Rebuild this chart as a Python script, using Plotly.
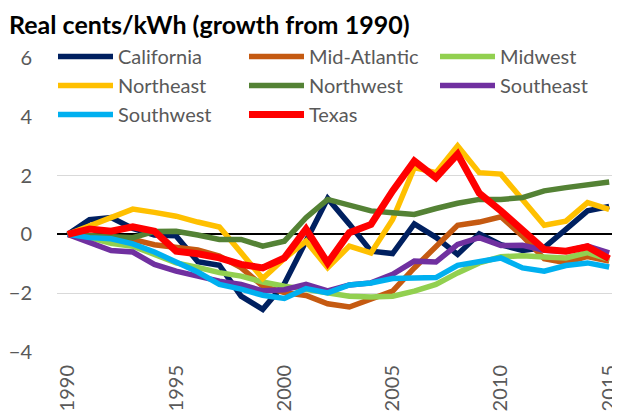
import plotly.graph_objects as go

years = list(range(1990, 2016))

series_names = ["California", "Mid-Atlantic", "Midwest", "Northeast",
                "Northwest", "Southeast", "Southwest", "Texas"]

california = [0, 0.5, 0.57, 0.2, -0.02, -0.05, -0.93, -1.05, -2.1, -2.55, -1.68, -0.2, 1.22,
              0.35, -0.57, -0.65, 0.36, -0.1, -0.68, 0.02, -0.35, -0.55, -0.45, 0.17, 0.8, 0.95]
mid_atlantic = [0, -0.05, -0.1, -0.17, -0.35, -0.45, -0.53, -0.74, -1.13, -1.76, -1.98, -2.08, -2.36,
                -2.47, -2.22, -1.93, -1.14, -0.4, 0.31, 0.42, 0.6, -0.06, -0.83, -0.96, -0.75, -0.91]
midwest = [0, -0.11, -0.3, -0.4, -0.68, -0.97, -1.12, -1.3, -1.42, -1.62, -1.76, -1.87, -1.98,
           -2.1, -2.13, -2.1, -1.93, -1.7, -1.31, -0.97, -0.76, -0.73, -0.77, -0.8, -0.62, -0.85]
northeast = [0, 0.3, 0.55, 0.86, 0.75, 0.62, 0.42, 0.25, -0.62, -1.5, -0.82, -0.23, -1.13,
             -0.4, -0.63, 0.51, 2.27, 2.1, 3.01, 2.1, 2.05, 1.19, 0.31, 0.45, 1.08, 0.85]
northwest = [0, -0.03, -0.06, -0.11, 0.1, 0.11, -0.02, -0.17, -0.17, -0.4, -0.23, 0.57, 1.19,
             0.99, 0.8, 0.74, 0.68, 0.88, 1.06, 1.19, 1.19, 1.25, 1.48, 1.59, 1.67, 1.78]
southeast = [0, -0.28, -0.55, -0.6, -1.02, -1.25, -1.42, -1.59, -1.7, -1.92, -1.88, -1.7, -1.92,
             -1.72, -1.65, -1.36, -0.91, -0.94, -0.34, -0.11, -0.38, -0.37, -0.54, -0.57, -0.4, -0.63]
southwest = [0, -0.11, -0.15, -0.32, -0.6, -0.95, -1.28, -1.7, -1.86, -2.07, -2.18, -1.84, -1.99,
             -1.72, -1.65, -1.5, -1.48, -1.47, -1.05, -0.93, -0.8, -1.14, -1.25, -1.06, -0.97, -1.11]
texas = [0, 0.18, 0.11, 0.26, 0.11, -0.57, -0.66, -0.8, -1.02, -1.14, -0.8, 0.18, -0.97,
         0.06, 0.34, 1.48, 2.5, 1.93, 2.73, 1.4, 0.8, 0.17, -0.51, -0.57, -0.42, -0.83]

series_values = [california, mid_atlantic, midwest, northeast,
                 northwest, southeast, southwest, texas]
colors = ["#002060", "#C55A11", "#92D050", "#FFC000",
          "#548235", "#7030A0", "#00B0F0", "#FF0000"]
widths = [5.5, 5.5, 5.5, 5.5, 5.5, 5.5, 5.5, 7]

x_ticks = [1990, 1995, 2000, 2005, 2010, 2015]
y_ticks = [-4, -2, 0, 2, 4, 6]

FONT = "Lato"
W, H = 612, 410  # page body adds an 8px offset inside the 620x418 window
ML, MT, MB = 49, 50, 66
PW, PH = W - ML, H - MT - MB

fig = go.Figure()
for name, vals, col, w in zip(series_names, series_values, colors, widths):
    fig.add_trace(go.Scatter(x=years, y=vals, name=name, mode="lines",
                             line=dict(color=col, width=w)))

fig.update_layout(
    width=W, height=H,
    margin=dict(l=ML, r=0, t=MT, b=MB, autoexpand=False),
    paper_bgcolor="white", plot_bgcolor="white",
    font=dict(family=FONT, color="#595959", size=20),
    title=dict(text="<b>Real cents/kWh (growth from 1990)</b>",
               font=dict(family=FONT, size=25, color="black"),
               x=1 / W, xref="container", xanchor="left",
               y=1 - 17 / H, yref="container", yanchor="middle", automargin=False),
    legend=dict(orientation="h", x=(45 - ML) / PW, xanchor="left",
                y=1 + (MT - 29) / PH, yanchor="top",
                bgcolor="white", font=dict(family=FONT, size=20, color="#595959"),
                entrywidth=121, entrywidthmode="pixels", itemwidth=55,
                traceorder="normal"),
    showlegend=True,
)
fig.update_xaxes(range=[1989.5, 2015.5], tickvals=x_ticks, ticktext=[str(t) for t in x_ticks],
                 tickangle=-90, showgrid=False, zeroline=False, showline=False, automargin=False,
                 ticks="", ticklabeloverflow="allow",
                 ticklabelstandoff=8, tickfont=dict(size=20, color="#595959"))
fig.update_yaxes(range=[-4, 6], tickvals=y_ticks, showgrid=True, gridcolor="#D9D9D9",
                 gridwidth=1, zeroline=True, zerolinecolor="black", zerolinewidth=1.5,
                 showline=False, ticks="", ticklabelstandoff=24, automargin=False,
                 tickfont=dict(size=20, color="#595959"))

fig.write_html("out.html")
